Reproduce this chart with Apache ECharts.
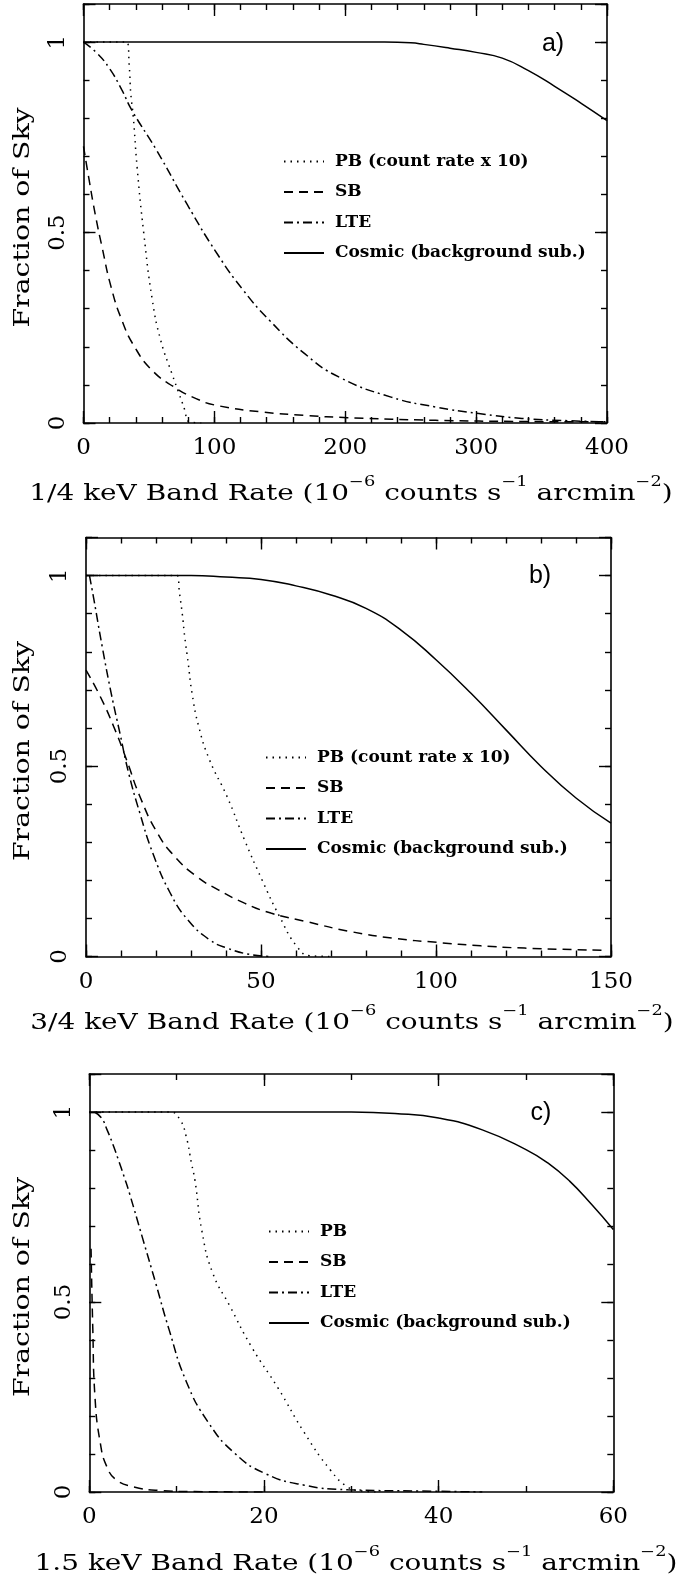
<!DOCTYPE html>
<html><head><meta charset="utf-8">
<script src="https://cdn.jsdelivr.net/npm/echarts@6/dist/echarts.min.js"></script>
<style>html,body{margin:0;padding:0;background:#fff}#c{width:681px;height:1576px}</style>
</head><body><div id="c"></div>
<script>
// ---------- DATA ----------
// Panel a) 1/4 keV
const aPB = [[0,1],[33,1],[35,0.935],[36.1,0.866],[38,0.805],[41,0.67],[46,0.5],[52.5,0.325],[59,0.217],[67.5,0.13],[72.5,0.082],[77.5,0.033],[80,0.005],[90,0]];
const aSB = [[0,0.726],[4.3,0.638],[9.3,0.542],[14.3,0.46],[21,0.358],[29.3,0.27],[39,0.2],[52.5,0.138],[69,0.095],[86,0.064],[102,0.046],[136,0.029],[169,0.02],[202,0.014],[269,0.007],[335,0.004],[400,0.003]];
const aLTE = [[0,1],[10,0.972],[20,0.93],[29.2,0.875],[36.8,0.822],[56,0.715],[79,0.575],[102,0.445],[122,0.349],[142,0.27],[169,0.182],[195,0.121],[235,0.068],[269,0.042],[302,0.025],[335,0.012],[370,0.006],[400,0.003]];
const aCosmic = [[0,1],[230,1],[250,0.998],[260,0.994],[280,0.984],[300,0.973],[320,0.958],[340,0.925],[360,0.884],[380,0.84],[400,0.794]];
// Panel b) 3/4 keV
const bPB = [[0,1],[26,1],[26.7,0.955],[27.5,0.9],[28.2,0.84],[29.2,0.77],[30.3,0.691],[32.2,0.604],[35.3,0.516],[40.3,0.42],[45.3,0.306],[50.3,0.201],[55.3,0.105],[60.3,0.026],[64,0.002],[70,0]];
const bSB = [[0,0.752],[4.1,0.682],[7.9,0.604],[11.6,0.516],[15.4,0.42],[20.4,0.324],[25.4,0.262],[31.6,0.21],[37.8,0.175],[45.3,0.14],[52.8,0.114],[62.8,0.092],[75.3,0.066],[87.8,0.048],[100.3,0.037],[112.8,0.028],[125.3,0.022],[149,0.016]];
const bLTE = [[1,1],[2.2,0.94],[4.7,0.81],[7.2,0.691],[9.7,0.586],[12.2,0.481],[15.4,0.376],[19.1,0.271],[24.1,0.166],[29.1,0.096],[35.3,0.044],[40.3,0.022],[47.8,0.004],[53,0]];
const bCosmic = [[0,1],[30,1],[40,0.996],[50,0.99],[60,0.973],[70,0.949],[80,0.914],[90,0.857],[100,0.779],[110,0.691],[120,0.595],[130,0.499],[140,0.416],[150,0.35]];
// Panel c) 1.5 keV
const cPB = [[0,1],[9.3,1],[10.4,0.979],[11.1,0.935],[11.7,0.865],[12.1,0.82],[12.9,0.686],[14.1,0.578],[16.1,0.489],[18.6,0.381],[21.6,0.274],[24.6,0.157],[27.6,0.058],[29.6,0.013],[31.1,0.003],[33,0]];
const cSB = [[0.2,0.64],[0.4,0.43],[0.65,0.25],[1.25,0.13],[2,0.067],[3.1,0.032],[5,0.014],[8.1,0.004],[12,0.001],[20,0]];
const cLTE = [[0.6,1],[1.4,0.984],[2,0.955],[2.75,0.912],[3.3,0.876],[4.1,0.822],[4.6,0.786],[6.1,0.668],[7.6,0.55],[9.1,0.43],[11.1,0.291],[13.6,0.184],[16.6,0.103],[20.1,0.049],[24.6,0.018],[29.6,0.006],[39.6,0.002],[45,0]];
const cCosmic = [[0,1],[30,1],[35,0.996],[40,0.984],[45,0.953],[50,0.901],[52.5,0.866],[55,0.818],[57.5,0.757],[60,0.691]];

// Axis ranges / tick steps
const xMaxes = [400, 150, 60];
const xMajorSteps = [100, 50, 20];
const xMinorSteps = [20, 10, 10];
const yMax = 1.1, yMajorStep = 0.5, yMinorStep = 0.1;

// Texts
const panelTags = ['a)', 'b)', 'c)'];
const bandNames = ['1/4', '3/4', '1.5'];
const yTitle = 'Fraction of Sky';
const legendNamesAB = ['PB (count rate x 10)', 'SB', 'LTE', 'Cosmic (background sub.)'];
const legendNamesC = ['PB', 'SB', 'LTE', 'Cosmic (background sub.)'];
const panelSeries = [[aPB, aSB, aLTE, aCosmic],[bPB, bSB, bLTE, bCosmic],[cPB, cSB, cLTE, cCosmic]];

// ---------- LAYOUT / STYLE ----------
const SERIF = 'DejaVu Serif';
const grids = [
  {left: 83.5, top: 4, width: 523.5, height: 419},
  {left: 86, top: 537.5, width: 525, height: 419},
  {left: 89.3, top: 1074, width: 524, height: 418}
];
const legendPos = [{left: 278, top: 148}, {left: 260, top: 744}, {left: 263, top: 1218}];
const tagPos = [[553, 44], [540, 576], [541, 1113]];
const xTitlePos = [[351, 490], [352, 1019], [356, 1560]];
const yTitleX = 23;
const dashes = [[1.5, 5], [9, 6], [9, 4, 2, 4], 'solid'];
const BLACK = '#000';

const xAxes = [], yAxes = [], series = [], legends = [], graphics = [];
grids.forEach((g, i) => {
  const common = {gridIndex: i, type: 'value', min: 0, splitLine: {show: false}, axisPointer: {show: false}};
  const lineOn = {show: true, onZero: false, lineStyle: {color: BLACK, width: 1.6}};
  const lineOff = {show: false, onZero: false};
  const tickMaj = {show: true, inside: true, length: 12, lineStyle: {color: BLACK, width: 1.4}};
  const tickMin = {show: true, inside: true, length: 6, lineStyle: {color: BLACK, width: 1.4}};
  ['bottom', 'top'].forEach(pos => {
    xAxes.push(Object.assign({}, common, {
      position: pos, max: xMaxes[i], interval: xMajorSteps[i],
      axisLine: lineOn, axisTick: tickMaj,
      axisLabel: pos === 'bottom' ? {show: true, margin: 14, color: BLACK, fontFamily: SERIF, fontSize: 23} : {show: false}
    }));
    xAxes.push(Object.assign({}, common, {
      position: pos, max: xMaxes[i], interval: xMinorSteps[i],
      axisLine: lineOff, axisTick: tickMin, axisLabel: {show: false}
    }));
  });
  ['left', 'right'].forEach(pos => {
    yAxes.push(Object.assign({}, common, {
      position: pos, max: yMax, interval: yMajorStep,
      axisLine: lineOn, axisTick: tickMaj,
      axisLabel: pos === 'left' ? {show: true, rotate: 90, margin: 14, color: BLACK, fontFamily: SERIF, fontSize: 23,
        formatter: v => (v > 1.05 ? '' : String(v))} : {show: false}
    }));
    yAxes.push(Object.assign({}, common, {
      position: pos, max: yMax, interval: yMinorStep,
      axisLine: lineOff, axisTick: tickMin, axisLabel: {show: false}
    }));
  });
  const names = i === 2 ? legendNamesC : legendNamesAB;
  panelSeries[i].forEach((d, k) => {
    series.push({
      type: 'line', name: names[k], xAxisIndex: 4 * i, yAxisIndex: 4 * i, data: d,
      symbol: 'none', smooth: 0.5, silent: true,
      itemStyle: {color: BLACK},
      lineStyle: {color: BLACK, width: 1.5, type: dashes[k]}
    });
  });
  legends.push({
    data: names, orient: 'vertical', left: legendPos[i].left, top: legendPos[i].top,
    itemWidth: 40, itemHeight: 14, itemGap: 13.5, selectedMode: false,
    itemStyle: {opacity: 0},
    textStyle: {fontFamily: SERIF, fontWeight: 'bold', fontSize: 17, color: BLACK, padding: [0, 0, 0, 6]}
  });
  // panel tag
  graphics.push({type: 'text', x: tagPos[i][0], y: tagPos[i][1], silent: true,
    style: {text: panelTags[i], font: '25px "Liberation Sans"', fill: BLACK, align: 'center', verticalAlign: 'middle'}});
  // x-axis title (with superscripts)
  graphics.push({type: 'text', x: xTitlePos[i][0], y: xTitlePos[i][1], scaleX: 1.27, silent: true,
    style: {
      text: '{n|' + bandNames[i] + ' keV Band Rate (10}{s|\u22126}{n| counts s}{s|\u22121}{n| arcmin}{s|\u22122}{n|)}',
      align: 'center', verticalAlign: 'middle', fill: BLACK,
      rich: {
        n: {fontFamily: SERIF, fontSize: 22, fill: BLACK, lineHeight: 30, verticalAlign: 'bottom'},
        s: {fontFamily: SERIF, fontSize: 14, fill: BLACK, lineHeight: 14, verticalAlign: 'top'}
      }
    }});
  // y-axis title
  graphics.push({type: 'text', x: yTitleX, y: g.top + g.height / 2 + 4, rotation: Math.PI / 2, scaleX: 1.29, silent: true,
    style: {text: yTitle, font: '22px "DejaVu Serif"', fill: BLACK, align: 'center', verticalAlign: 'middle'}});
});

const chart = echarts.init(document.getElementById('c'), null, {renderer: 'canvas'});
chart.setOption({
  backgroundColor: '#fff', animation: false,
  grid: grids.map(g => Object.assign({containLabel: false}, g)),
  xAxis: xAxes, yAxis: yAxes, series: series, legend: legends, graphic: graphics
});
</script></body></html>
